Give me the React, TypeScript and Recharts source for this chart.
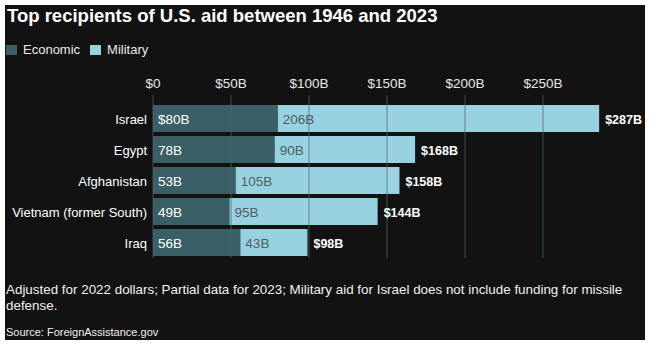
import React from "react";
import {
  BarChart,
  Bar,
  XAxis,
  YAxis,
  ReferenceLine,
  LabelList,
} from "recharts";

const countries = ["Israel", "Egypt", "Afghanistan", "Vietnam (former South)", "Iraq"];
const economic = [80, 78, 53, 49, 56];
const military = [206, 90, 105, 95, 43];
const totals = [287, 168, 158, 144, 98];
const xTicks = [0, 50, 100, 150, 200, 250];

const ECON = "#3a5f66";
const MIL = "#98d2e1";
const FONT = '"Liberation Sans", Arial, sans-serif';

const chartData = countries.map((name, i) => ({
  name,
  economic: economic[i],
  military: military[i],
  total: totals[i],
}));

const CountryTick = (props: any) => {
  const { x, y, payload } = props;
  return (
    <text
      x={x}
      y={y + 1}
      textAnchor="end"
      dominantBaseline="central"
      fill="#ffffff"
      fontSize={13}
      fontFamily={FONT}
    >
      {payload.value}
    </text>
  );
};

const EconLabel = (props: any) => {
  const { x, y, height, value, index } = props;
  return (
    <text
      x={x + 5}
      y={y + height / 2 + 1}
      dominantBaseline="central"
      fill="#ffffff"
      fontSize={13.5}
      fontFamily={FONT}
    >
      {index === 0 ? `$${value}B` : `${value}B`}
    </text>
  );
};

const MilLabel = (props: any) => {
  const { x, y, height, value } = props;
  return (
    <text
      x={x + 5}
      y={y + height / 2 + 1}
      dominantBaseline="central"
      fill="#4f5d63"
      fontSize={13.5}
      fontFamily={FONT}
    >
      {`${value}B`}
    </text>
  );
};

const TotalLabel = (props: any) => {
  const { x, y, width, height, index } = props;
  return (
    <text
      x={x + width + 6}
      y={y + height / 2 + 1}
      dominantBaseline="central"
      fill="#ffffff"
      fontSize={12.5}
      fontWeight="bold"
      fontFamily={FONT}
    >
      {`$${totals[index]}B`}
    </text>
  );
};

const Swatch = ({ color }: { color: string }) => (
  <span
    style={{
      display: "inline-block",
      width: 11,
      height: 10,
      background: color,
      marginRight: 6,
    }}
  />
);

export default function App() {
  return (
    <div
      style={{
        position: "absolute",
        left: 5,
        top: 5,
        width: 640,
        height: 335,
        background: "#121212",
        color: "#ffffff",
        fontFamily: FONT,
        overflow: "hidden",
      }}
    >
      <div
        style={{
          position: "absolute",
          left: 2,
          top: 2,
          fontSize: 18.5,
          lineHeight: "18.5px",
          fontWeight: "bold",
          whiteSpace: "nowrap",
        }}
      >
        Top recipients of U.S. aid between 1946 and 2023
      </div>
      <div
        style={{
          position: "absolute",
          left: 1,
          top: 38,
          fontSize: 13,
          lineHeight: "13px",
          display: "flex",
          alignItems: "center",
          color: "#e8e8e8",
        }}
      >
        <Swatch color={ECON} />
        <span style={{ marginRight: 10 }}>Economic</span>
        <Swatch color={MIL} />
        <span>Military</span>
      </div>
      <div style={{ position: "absolute", left: 0, top: 55 }}>
        <BarChart
          width={640}
          height={205}
          data={chartData}
          layout="vertical"
          margin={{ top: 5, right: 24, bottom: 7, left: 0 }}
        >
          <XAxis
            type="number"
            orientation="top"
            domain={[0, 300]}
            ticks={xTicks}
            tickFormatter={(v: number) => (v === 0 ? "$0" : `$${v}B`)}
            axisLine={false}
            tickLine={false}
            tickSize={5}
            tickMargin={2}
            height={30}
            tick={{ fill: "#e8e8e8", fontSize: 13.5, fontFamily: FONT }}
          />
          <YAxis
            type="category"
            dataKey="name"
            width={148}
            axisLine={false}
            tickLine={false}
            tickSize={4}
            tickMargin={2}
            padding={{ top: 8, bottom: 0 }}
            tick={CountryTick}
          />
          <Bar
            dataKey="economic"
            stackId="a"
            fill={ECON}
            barSize={27}
            isAnimationActive={false}
          >
            <LabelList dataKey="economic" content={EconLabel} />
          </Bar>
          <Bar
            dataKey="military"
            stackId="a"
            fill={MIL}
            barSize={27}
            isAnimationActive={false}
          >
            <LabelList dataKey="military" content={MilLabel} />
            <LabelList dataKey="total" content={TotalLabel} />
          </Bar>
          {xTicks.map((t) => (
            <ReferenceLine
              key={t}
              x={t}
              stroke="#50646e"
              strokeOpacity={0.75}
              strokeWidth={1}
            />
          ))}
        </BarChart>
      </div>
      <div
        style={{
          position: "absolute",
          left: 1,
          top: 277,
          fontSize: 13.4,
          lineHeight: "15.5px",
          color: "#f0f0f0",
          whiteSpace: "nowrap",
        }}
      >
        Adjusted for 2022 dollars; Partial data for 2023; Military aid for Israel does not include funding for missile
        <br />
        defense.
      </div>
      <div
        style={{
          position: "absolute",
          left: 1,
          top: 322,
          fontSize: 11,
          lineHeight: "11px",
          color: "#f0f0f0",
          whiteSpace: "nowrap",
        }}
      >
        Source: ForeignAssistance.gov
      </div>
    </div>
  );
}
